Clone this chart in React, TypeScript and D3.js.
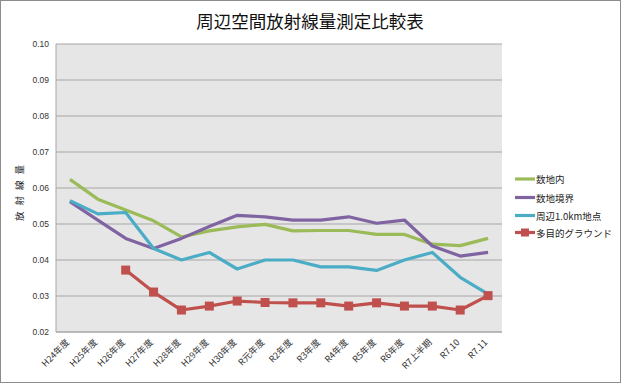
import React from "react";
import * as d3 from "d3";

const categories = ["H24年度","H25年度","H26年度","H27年度","H28年度","H29年度","H30年度","R元年度","R2年度","R3年度","R4年度","R5年度","R6年度","R7上半期","R7.10","R7.11"];
const seriesNames = ["数地内","数地境界","周辺1.0km地点","多目的グラウンド"];
const onsite: (number|null)[] = [0.0624,0.0569,0.0539,0.0509,0.0464,0.0481,0.0492,0.0499,0.0481,0.0482,0.0482,0.0471,0.0471,0.0444,0.0440,0.0460];
const boundary: (number|null)[] = [0.0562,0.0511,0.0460,0.0432,0.0460,0.0493,0.0524,0.0520,0.0511,0.0511,0.0520,0.0502,0.0511,0.0439,0.0411,0.0421];
const around1km: (number|null)[] = [0.0565,0.0528,0.0532,0.0432,0.0400,0.0421,0.0375,0.0400,0.0400,0.0381,0.0381,0.0371,0.0400,0.0421,0.0352,0.0305];
const ground: (number|null)[] = [null,null,0.0372,0.0311,0.0261,0.0272,0.0286,0.0282,0.0281,0.0281,0.0272,0.0281,0.0272,0.0272,0.0261,0.0301];
const yTicks = [0.02,0.03,0.04,0.05,0.06,0.07,0.08,0.09,0.10];
const colors = ["#9bbb59","#8064a2","#4bacc6","#c0504d"];

export default function App() {
  const W = 621, H = 383;
  const L = 56, R = 502, T = 44, B = 332;
  const x = d3.scaleBand().domain(categories).range([L, R]);
  const y = d3.scaleLinear().domain([0.02, 0.10]).range([B, T]);
  const cx = (c: string) => (x(c) as number) + x.bandwidth() / 2;
  const data = [onsite, boundary, around1km, ground];
  const line = d3.line<[string, number|null]>()
    .defined(d => d[1] !== null)
    .x(d => cx(d[0]))
    .y(d => y(d[1] as number));
  const font = "'Noto Sans CJK JP', 'Noto Sans', sans-serif";
  return (
    <svg width={W} height={H} style={{position:"absolute", left:0, top:0}} fontFamily={font}>
      <rect x={0.5} y={0.5} width={W-1} height={H-1} fill="#fff" stroke="#8c8c8c" />
      <text x={310} y={28} textAnchor="middle" fontSize={17.5} fill="#111">周辺空間放射線量測定比較表</text>
      <rect x={L} y={T} width={R-L} height={B-T} fill="#e6e6e6" />
      {yTicks.map(t => (
        <g key={t}>
          <line x1={L} x2={R} y1={y(t)} y2={y(t)} stroke="#a6a6a6" strokeWidth={1} />
          <text x={49} y={y(t)+3} textAnchor="end" fontSize={8.5} fill="#333" fontFamily="'Liberation Sans', Arial, sans-serif">{t.toFixed(2)}</text>
        </g>
      ))}
      <line x1={L} x2={L} y1={T} y2={B} stroke="#a6a6a6" />
      <line x1={L} x2={R} y1={B} y2={B} stroke="#a6a6a6" />
      <text transform={`translate(23,190) rotate(-90)`} textAnchor="middle" fontSize={9.5} letterSpacing={6} fill="#222">放射線量</text>
      {categories.map(c => (
        <text key={c} transform={`translate(${cx(c)},${343}) rotate(-45)`} textAnchor="end" fontSize={9} fill="#333">{c}</text>
      ))}
      {data.map((s, i) => (
        <path key={i} d={line(categories.map((c, j) => [c, s[j]] as [string, number|null])) || ""} fill="none" stroke={colors[i]} strokeWidth={3.2} strokeLinejoin="round" />
      ))}
      {ground.map((v, j) => v === null ? null : (
        <rect key={j} x={cx(categories[j])-4.5} y={y(v)-4.5} width={9} height={9} fill={colors[3]} />
      ))}
      {seriesNames.map((n, i) => {
        const ly = [179, 197.5, 215.5, 232.5][i];
        return (
          <g key={n}>
            <line x1={515} x2={535} y1={ly} y2={ly} stroke={colors[i]} strokeWidth={3.2} />
            {i === 3 && <rect x={521} y={ly-4} width={8} height={8} fill={colors[3]} />}
            <text x={536} y={ly+4} fontSize={9.5} fill="#222">{n}</text>
          </g>
        );
      })}
    </svg>
  );
}
